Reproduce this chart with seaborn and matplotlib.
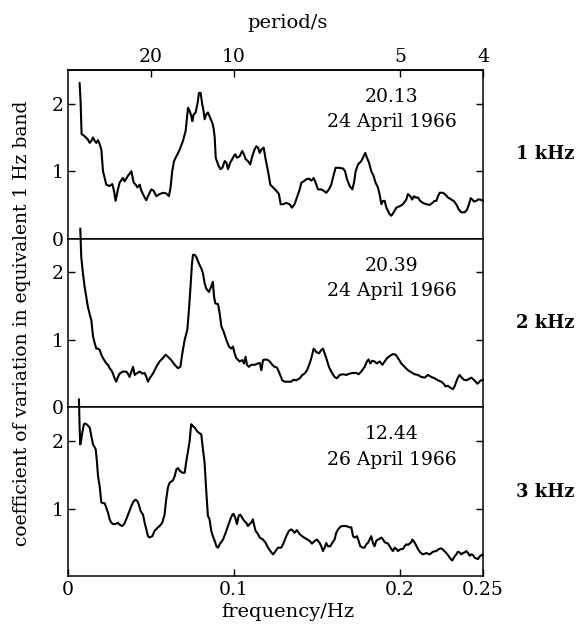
import matplotlib
matplotlib.use("Agg")
import matplotlib.pyplot as plt
import seaborn as sns
import numpy as np

# ---------------- data ----------------
freq_1khz = [0.0070, 0.0076, 0.0080, 0.0082, 0.0100, 0.0120, 0.0131, 0.0141, 0.0151, 0.0161, 0.0171, 0.0181,
             0.0191, 0.0201, 0.0211, 0.0221, 0.0231, 0.0251, 0.0267, 0.0277, 0.0287, 0.0301, 0.0311, 0.0331,
             0.0341, 0.0361, 0.0382, 0.0396, 0.0408, 0.0418, 0.0432, 0.0442, 0.0462, 0.0472, 0.0482, 0.0502,
             0.0516, 0.0532, 0.0552, 0.0572, 0.0592, 0.0608, 0.0618, 0.0628, 0.0639, 0.0653, 0.0673, 0.0693,
             0.0709, 0.0723, 0.0733, 0.0743, 0.0749, 0.0757, 0.0769, 0.0781, 0.0789, 0.0799, 0.0809, 0.0817,
             0.0823, 0.0833, 0.0843, 0.0857, 0.0869, 0.0877, 0.0884, 0.0890, 0.0904, 0.0918, 0.0930, 0.0944,
             0.0954, 0.0964, 0.0978, 0.0990, 0.0998, 0.1008, 0.1018, 0.1034, 0.1050, 0.1060, 0.1070, 0.1084,
             0.1098, 0.1110, 0.1124, 0.1135, 0.1145, 0.1155, 0.1165, 0.1179, 0.1189, 0.1205, 0.1219, 0.1235,
             0.1255, 0.1271, 0.1281, 0.1295, 0.1315, 0.1335, 0.1349, 0.1365, 0.1375, 0.1386, 0.1396, 0.1406,
             0.1420, 0.1436, 0.1452, 0.1466, 0.1480, 0.1492, 0.1506, 0.1526, 0.1540, 0.1556, 0.1572, 0.1586,
             0.1596, 0.1612, 0.1633, 0.1657, 0.1669, 0.1681, 0.1697, 0.1713, 0.1723, 0.1733, 0.1747, 0.1767,
             0.1781, 0.1791, 0.1801, 0.1813, 0.1827, 0.1841, 0.1853, 0.1867, 0.1877, 0.1888, 0.1898, 0.1908,
             0.1918, 0.1938, 0.1948, 0.1962, 0.1978, 0.1998, 0.2018, 0.2038, 0.2048, 0.2062, 0.2074, 0.2084,
             0.2094, 0.2108, 0.2122, 0.2138, 0.2159, 0.2179, 0.2195, 0.2209, 0.2219, 0.2229, 0.2239, 0.2259,
             0.2275, 0.2289, 0.2309, 0.2323, 0.2339, 0.2355, 0.2369, 0.2390, 0.2404, 0.2416, 0.2426, 0.2436,
             0.2446, 0.2460, 0.2470, 0.2484, 0.2500]
cv_1khz = [2.31, 2.04, 1.74, 1.55, 1.52, 1.47, 1.42, 1.45, 1.50, 1.45, 1.42, 1.46,
           1.40, 1.32, 1.00, 0.90, 0.80, 0.78, 0.81, 0.71, 0.56, 0.73, 0.83, 0.90,
           0.85, 0.93, 1.00, 0.83, 0.80, 0.76, 0.80, 0.71, 0.61, 0.57, 0.63, 0.73,
           0.71, 0.63, 0.66, 0.68, 0.67, 0.63, 0.76, 1.00, 1.15, 1.22, 1.32, 1.45,
           1.60, 1.94, 1.89, 1.82, 1.74, 1.84, 1.87, 2.01, 2.16, 2.16, 1.99, 1.89,
           1.77, 1.84, 1.87, 1.79, 1.72, 1.64, 1.50, 1.20, 1.10, 1.03, 1.05, 1.15,
           1.13, 1.03, 1.13, 1.18, 1.22, 1.25, 1.20, 1.22, 1.30, 1.25, 1.18, 1.15,
           1.10, 1.22, 1.32, 1.37, 1.35, 1.27, 1.32, 1.35, 1.20, 1.00, 0.80, 0.76,
           0.71, 0.66, 0.51, 0.51, 0.53, 0.51, 0.46, 0.51, 0.58, 0.66, 0.73, 0.83,
           0.85, 0.88, 0.89, 0.86, 0.90, 0.83, 0.73, 0.73, 0.71, 0.68, 0.73, 0.80,
           0.90, 1.05, 1.05, 1.04, 1.00, 0.88, 0.78, 0.73, 0.83, 1.00, 1.10, 1.15,
           1.22, 1.27, 1.20, 1.13, 1.00, 0.93, 0.83, 0.76, 0.66, 0.51, 0.56, 0.56,
           0.46, 0.36, 0.34, 0.39, 0.46, 0.48, 0.51, 0.58, 0.66, 0.63, 0.58, 0.63,
           0.61, 0.61, 0.56, 0.53, 0.51, 0.50, 0.53, 0.56, 0.56, 0.63, 0.68, 0.68,
           0.65, 0.61, 0.58, 0.56, 0.51, 0.43, 0.39, 0.39, 0.43, 0.51, 0.60, 0.58,
           0.55, 0.56, 0.58, 0.58, 0.56]

freq_2khz = [0.0074, 0.0080, 0.0090, 0.0100, 0.0110, 0.0120, 0.0135, 0.0141, 0.0151, 0.0161, 0.0171, 0.0181,
             0.0191, 0.0201, 0.0211, 0.0231, 0.0241, 0.0251, 0.0261, 0.0271, 0.0281, 0.0291, 0.0301, 0.0311,
             0.0331, 0.0351, 0.0361, 0.0371, 0.0382, 0.0392, 0.0402, 0.0412, 0.0432, 0.0448, 0.0462, 0.0472,
             0.0482, 0.0492, 0.0512, 0.0532, 0.0552, 0.0572, 0.0588, 0.0602, 0.0622, 0.0643, 0.0663, 0.0677,
             0.0689, 0.0703, 0.0719, 0.0727, 0.0737, 0.0747, 0.0753, 0.0763, 0.0773, 0.0789, 0.0803, 0.0813,
             0.0823, 0.0833, 0.0849, 0.0863, 0.0873, 0.0880, 0.0888, 0.0904, 0.0914, 0.0924, 0.0938, 0.0954,
             0.0970, 0.0984, 0.0994, 0.1004, 0.1014, 0.1034, 0.1050, 0.1060, 0.1070, 0.1078, 0.1090, 0.1104,
             0.1124, 0.1145, 0.1155, 0.1165, 0.1175, 0.1191, 0.1205, 0.1215, 0.1231, 0.1245, 0.1259, 0.1275,
             0.1291, 0.1305, 0.1325, 0.1345, 0.1359, 0.1375, 0.1396, 0.1412, 0.1426, 0.1440, 0.1456, 0.1466,
             0.1480, 0.1496, 0.1512, 0.1526, 0.1536, 0.1546, 0.1556, 0.1572, 0.1586, 0.1606, 0.1620, 0.1637,
             0.1657, 0.1677, 0.1697, 0.1717, 0.1737, 0.1751, 0.1767, 0.1787, 0.1801, 0.1811, 0.1821, 0.1833,
             0.1847, 0.1861, 0.1877, 0.1894, 0.1908, 0.1922, 0.1938, 0.1958, 0.1974, 0.1988, 0.2008, 0.2028,
             0.2048, 0.2068, 0.2088, 0.2108, 0.2129, 0.2149, 0.2169, 0.2189, 0.2209, 0.2229, 0.2249, 0.2263,
             0.2275, 0.2289, 0.2303, 0.2319, 0.2329, 0.2339, 0.2349, 0.2359, 0.2369, 0.2384, 0.2400, 0.2416,
             0.2430, 0.2444, 0.2456, 0.2466, 0.2476, 0.2486, 0.2500]
cv_2khz = [2.65, 2.23, 1.99, 1.79, 1.64, 1.49, 1.34, 1.29, 1.05, 0.95, 0.87, 0.87,
           0.85, 0.78, 0.73, 0.65, 0.63, 0.58, 0.55, 0.50, 0.43, 0.38, 0.45, 0.50,
           0.53, 0.53, 0.50, 0.45, 0.53, 0.60, 0.48, 0.50, 0.53, 0.50, 0.51, 0.45,
           0.38, 0.43, 0.50, 0.60, 0.68, 0.73, 0.78, 0.75, 0.70, 0.63, 0.58, 0.60,
           0.80, 1.00, 1.15, 1.39, 1.74, 2.13, 2.26, 2.26, 2.23, 2.13, 2.06, 1.99,
           1.84, 1.76, 1.71, 1.79, 1.86, 1.64, 1.54, 1.53, 1.39, 1.20, 1.12, 1.00,
           0.90, 0.87, 0.90, 0.80, 0.73, 0.68, 0.70, 0.65, 0.75, 0.63, 0.60, 0.63,
           0.63, 0.65, 0.66, 0.55, 0.70, 0.71, 0.70, 0.68, 0.63, 0.60, 0.59, 0.50,
           0.40, 0.38, 0.38, 0.38, 0.41, 0.40, 0.43, 0.48, 0.50, 0.55, 0.65, 0.73,
           0.87, 0.82, 0.80, 0.85, 0.87, 0.80, 0.73, 0.60, 0.53, 0.45, 0.43, 0.48,
           0.49, 0.48, 0.50, 0.51, 0.51, 0.49, 0.53, 0.60, 0.68, 0.71, 0.65, 0.69,
           0.68, 0.65, 0.68, 0.63, 0.68, 0.73, 0.76, 0.79, 0.78, 0.73, 0.65, 0.60,
           0.55, 0.52, 0.49, 0.48, 0.45, 0.44, 0.48, 0.45, 0.43, 0.40, 0.38, 0.35,
           0.31, 0.32, 0.29, 0.27, 0.31, 0.38, 0.44, 0.48, 0.45, 0.41, 0.40, 0.42,
           0.44, 0.41, 0.38, 0.35, 0.37, 0.40, 0.40]

freq_3khz = [0.0066, 0.0070, 0.0074, 0.0080, 0.0086, 0.0090, 0.0096, 0.0106, 0.0120, 0.0131, 0.0141, 0.0151,
             0.0167, 0.0175, 0.0181, 0.0191, 0.0201, 0.0211, 0.0221, 0.0231, 0.0241, 0.0251, 0.0261, 0.0271,
             0.0287, 0.0301, 0.0311, 0.0327, 0.0341, 0.0351, 0.0367, 0.0382, 0.0396, 0.0408, 0.0418, 0.0428,
             0.0438, 0.0452, 0.0462, 0.0472, 0.0482, 0.0492, 0.0508, 0.0522, 0.0542, 0.0552, 0.0568, 0.0582,
             0.0592, 0.0602, 0.0612, 0.0633, 0.0643, 0.0653, 0.0663, 0.0673, 0.0689, 0.0703, 0.0713, 0.0723,
             0.0733, 0.0739, 0.0743, 0.0753, 0.0763, 0.0777, 0.0789, 0.0803, 0.0813, 0.0823, 0.0833, 0.0843,
             0.0853, 0.0863, 0.0873, 0.0884, 0.0894, 0.0904, 0.0914, 0.0934, 0.0950, 0.0964, 0.0978, 0.0990,
             0.0998, 0.1008, 0.1018, 0.1028, 0.1038, 0.1050, 0.1064, 0.1074, 0.1084, 0.1094, 0.1104, 0.1114,
             0.1120, 0.1130, 0.1145, 0.1155, 0.1175, 0.1191, 0.1205, 0.1225, 0.1235, 0.1251, 0.1265, 0.1285,
             0.1299, 0.1315, 0.1331, 0.1345, 0.1355, 0.1365, 0.1379, 0.1396, 0.1416, 0.1436, 0.1456, 0.1470,
             0.1486, 0.1500, 0.1516, 0.1526, 0.1536, 0.1546, 0.1556, 0.1566, 0.1580, 0.1592, 0.1606, 0.1616,
             0.1627, 0.1641, 0.1653, 0.1677, 0.1697, 0.1707, 0.1717, 0.1727, 0.1741, 0.1751, 0.1761, 0.1777,
             0.1787, 0.1797, 0.1807, 0.1817, 0.1827, 0.1837, 0.1847, 0.1857, 0.1867, 0.1877, 0.1888, 0.1898,
             0.1908, 0.1918, 0.1928, 0.1938, 0.1948, 0.1958, 0.1968, 0.1978, 0.1988, 0.1998, 0.2008, 0.2018,
             0.2028, 0.2038, 0.2048, 0.2058, 0.2068, 0.2074, 0.2082, 0.2094, 0.2108, 0.2122, 0.2138, 0.2159,
             0.2179, 0.2199, 0.2219, 0.2235, 0.2249, 0.2259, 0.2275, 0.2289, 0.2303, 0.2315, 0.2329, 0.2339,
             0.2349, 0.2359, 0.2369, 0.2379, 0.2390, 0.2400, 0.2410, 0.2420, 0.2430, 0.2440, 0.2450, 0.2460,
             0.2470, 0.2480, 0.2490, 0.2500]
cv_3khz = [2.62, 2.22, 1.95, 2.02, 2.12, 2.17, 2.25, 2.26, 2.23, 2.20, 2.07, 1.95,
           1.88, 1.68, 1.48, 1.33, 1.09, 1.08, 1.08, 1.01, 0.94, 0.84, 0.79, 0.77,
           0.77, 0.79, 0.76, 0.74, 0.78, 0.84, 0.94, 1.04, 1.11, 1.13, 1.11, 1.05,
           0.96, 0.91, 0.79, 0.69, 0.59, 0.57, 0.59, 0.67, 0.72, 0.74, 0.79, 0.91,
           1.14, 1.31, 1.38, 1.42, 1.48, 1.58, 1.60, 1.56, 1.53, 1.53, 1.70, 1.85,
           2.00, 2.17, 2.25, 2.22, 2.20, 2.15, 2.12, 2.10, 1.88, 1.68, 1.26, 0.89,
           0.84, 0.67, 0.59, 0.52, 0.44, 0.42, 0.47, 0.54, 0.64, 0.74, 0.84, 0.91,
           0.92, 0.86, 0.77, 0.89, 0.91, 0.86, 0.81, 0.79, 0.74, 0.77, 0.79, 0.84,
           0.77, 0.67, 0.62, 0.57, 0.54, 0.49, 0.42, 0.35, 0.32, 0.37, 0.42, 0.42,
           0.49, 0.59, 0.67, 0.69, 0.67, 0.64, 0.68, 0.62, 0.58, 0.55, 0.52, 0.48,
           0.52, 0.54, 0.49, 0.44, 0.37, 0.42, 0.49, 0.44, 0.44, 0.49, 0.54, 0.64,
           0.69, 0.73, 0.74, 0.74, 0.72, 0.72, 0.59, 0.57, 0.59, 0.52, 0.44, 0.42,
           0.42, 0.47, 0.49, 0.54, 0.59, 0.49, 0.44, 0.52, 0.54, 0.55, 0.57, 0.54,
           0.50, 0.49, 0.48, 0.44, 0.40, 0.37, 0.42, 0.40, 0.37, 0.39, 0.40, 0.40,
           0.44, 0.47, 0.46, 0.48, 0.50, 0.54, 0.52, 0.47, 0.40, 0.35, 0.32, 0.34,
           0.32, 0.36, 0.37, 0.40, 0.41, 0.39, 0.35, 0.31, 0.26, 0.23, 0.29, 0.32,
           0.36, 0.35, 0.32, 0.34, 0.35, 0.37, 0.34, 0.30, 0.32, 0.31, 0.27, 0.26,
           0.25, 0.29, 0.31, 0.31]

panel_labels = ["1 kHz", "2 kHz", "3 kHz"]
panel_times = ["20.13", "20.39", "12.44"]
panel_dates = ["24 April 1966", "24 April 1966", "26 April 1966"]
freq_ticks = [0, 0.1, 0.2, 0.25]
freq_ticklabels = ["0", "0.1", "0.2", "0.25"]
period_ticks = [0.05, 0.1, 0.2, 0.25]
period_ticklabels = ["20", "10", "5", "4"]

# ---------------- style ----------------
sns.set_theme(style="ticks")
plt.rcParams["font.family"] = ["DejaVu Serif"]
plt.rcParams["xtick.direction"] = "in"
plt.rcParams["ytick.direction"] = "in"
plt.rcParams["axes.linewidth"] = 1.1
plt.rcParams["text.color"] = "black"
plt.rcParams["axes.labelcolor"] = "black"
plt.rcParams["xtick.color"] = "black"
plt.rcParams["ytick.color"] = "black"
plt.rcParams["axes.edgecolor"] = "black"

fig, axes = plt.subplots(3, 1, figsize=(5.76, 6.34), dpi=100, sharex=True,
                         gridspec_kw=dict(hspace=0))
fig.subplots_adjust(left=0.118, right=0.8385, bottom=0.0915, top=0.8896)

series = [(freq_1khz, cv_1khz), (freq_2khz, cv_2khz), (freq_3khz, cv_3khz)]
for i, (ax, (fx, cy)) in enumerate(zip(axes, series)):
    sns.lineplot(x=fx, y=cy, ax=ax, color="black", linewidth=1.5,
                 estimator=None, sort=False)
    for ln in ax.lines:
        ln.set_clip_on(False)
    ax.set_xlim(0, 0.25)
    ax.set_ylim(0, 2.5)
    if i < 2:
        ax.set_yticks([0, 1, 2])
        ax.set_yticklabels(["0", "1", "2"])
    else:
        ax.set_yticks([1, 2])
        ax.set_yticklabels(["1", "2"])
    ax.tick_params(axis="y", left=True, right=True, length=5, width=1,
                   labelsize=13.5, pad=3, colors="black")
    ax.tick_params(axis="x", bottom=(i == 2), top=False, length=5, width=1,
                   labelsize=13.5, colors="black")
    ax.text(0.78, 0.84, panel_times[i], transform=ax.transAxes,
            ha="center", va="center", fontsize=13.5, color="black")
    ax.text(0.78, 0.69, panel_dates[i], transform=ax.transAxes,
            ha="center", va="center", fontsize=13.5, color="black")
    ax.text(1.15, 0.5, panel_labels[i], transform=ax.transAxes,
            ha="center", va="center", fontsize=13, fontweight="bold", color="black")

axes[2].set_xticks(freq_ticks)
axes[2].set_xticklabels(freq_ticklabels)
axes[2].set_xlabel("frequency/Hz", fontsize=14, labelpad=3)
axes[2].xaxis.label.set_x(0.53)

sec = axes[0].secondary_xaxis("top")
sec.set_xticks(period_ticks)
sec.set_xticklabels(period_ticklabels)
sec.tick_params(axis="x", direction="in", length=5, width=1, labelsize=13.5,
                pad=3, colors="black")
sec.set_xlabel("period/s", fontsize=14, labelpad=14)
sec.xaxis.label.set_x(0.53)

fig.text(0.038, 0.49, "coefficient of variation in equivalent 1 Hz band",
         rotation=90, ha="center", va="center", fontsize=13.5, color="black")

fig.savefig("out.png", dpi=100)
